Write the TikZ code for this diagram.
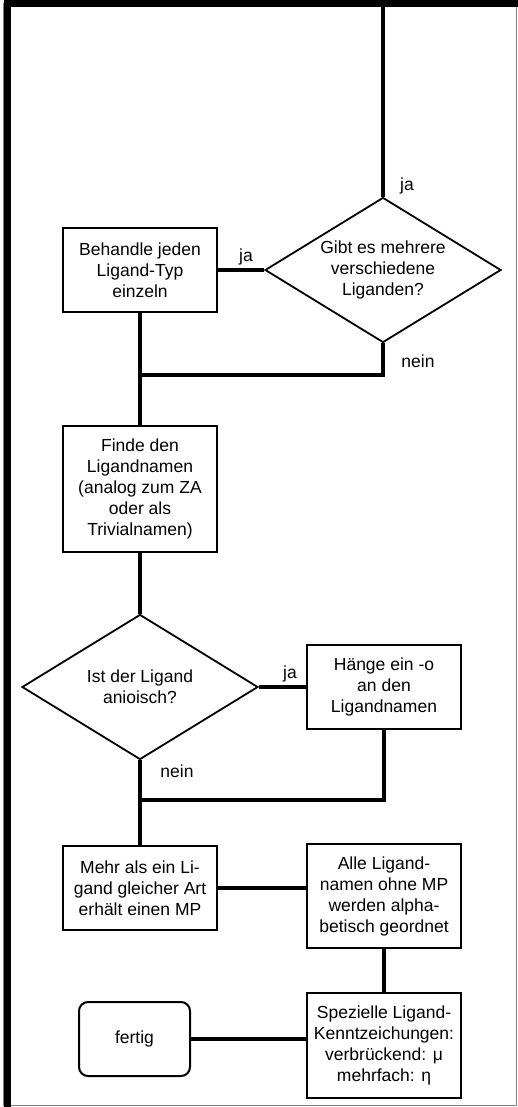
\documentclass[tikz,border=0pt]{standalone}
\usepackage{fontspec}
\setmainfont{Liberation Sans}
\usetikzlibrary{shapes.geometric,positioning,calc}

\begin{document}
\begin{tikzpicture}[
        x=1pt, y=-1pt,
        every node/.style={font=\fontsize{17.5}{21}\selectfont},
        process/.style={rectangle, draw, line width=2pt, align=center, minimum width=154pt, inner sep=2pt},
        decision/.style={diamond, draw, line width=1.8pt, align=center, aspect=1.64, inner sep=0pt, minimum width=236pt, minimum height=145pt},
        terminal/.style={rectangle, rounded corners=9pt, draw, line width=2pt, align=center, minimum width=111pt, minimum height=74pt},
        line/.style={line width=3.5pt},
        answer/.style={inner sep=0pt}
    ]
        \useasboundingbox (0,0) rectangle (518,1107);
        % frame
        \draw[gray, line width=1pt] (3.5,3.5) rectangle (516.5,1105.5);
        \draw[line width=7pt] (7.5,1107) -- (7.5,3.5) -- (518,3.5);

        \node[decision] (many) at (383,270) {Gibt es mehrere \\ verschiedene \\ Liganden?};
        \node[process, minimum height=84pt] (each) at (140,270) {Behandle jeden \\ Ligand-Typ \\ einzeln};
        \node[process, minimum height=126pt] (find) at (140,489) {Finde den \\ Ligandnamen \\ (analog zum ZA \\ oder als \\ Trivialnamen)};
        \node[decision] (anion) at (140,687) {Ist der Ligand \\ anioisch?};
        \node[process, minimum height=84pt] (suffix) at (384,687) {Hänge ein -o \\ an den \\ Ligandnamen};
        \node[process, minimum height=84pt] (prefix) at (140,888) {Mehr als ein Li- \\ gand gleicher Art \\ erhält einen MP};
        \node[process, minimum height=104pt] (sort) at (384,896) {Alle Ligand- \\ namen ohne MP \\ werden alpha- \\ betisch geordnet};
        \node[process, minimum height=105pt] (special) at (384,1045) {Spezielle Ligand- \\ Kenntzeichungen: \\ verbrückend: μ \\ mehrfach: η};
        \node[terminal] (done) at (134.5,1039) {fertig};

        \coordinate (entry) at (383,0);
        \coordinate (join1) at (140,375);
        \coordinate (join2) at (140,800);

        \draw[line] (entry) -- (many.north);
        \draw[line] (many.west) -- (each.east);
        \draw[line] (many.south) |- (join1);
        \draw[line] (each.south) -- (find.north);
        \draw[line] (find.south) -- (anion.north);
        \draw[line] (anion.east) -- (suffix.west);
        \draw[line] (suffix.south) |- (join2);
        \draw[line] (anion.south) -- (prefix.north);
        \draw[line] (prefix.east) -- (prefix.east -| sort.west);
        \draw[line] (sort.south) -- (special.north);
        \draw[line] (done.east) -- (done.east -| special.west);

        \node[answer] (ja1) at (407,186) {ja};
        \node[answer] (ja2) at (246,257) {ja};
        \node[answer] (nein1) at (418,361) {nein};
        \node[answer] (ja3) at (290,674) {ja};
        \node[answer] (nein2) at (177,771) {nein};
    \end{tikzpicture}
\end{document}
